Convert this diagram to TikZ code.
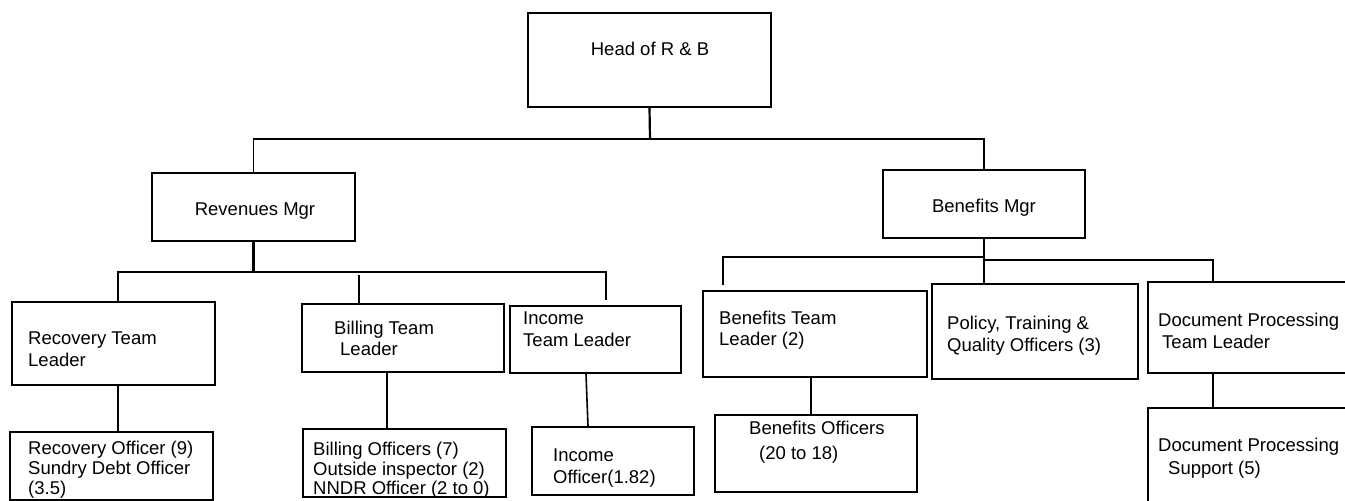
\documentclass[tikz,border=0pt]{standalone}
\usepackage{fontspec}
\setmainfont{Liberation Sans}
\begin{document}
\begin{tikzpicture}[x=1pt, y=-1pt,
  box/.style={draw, line width=1.6pt, inner sep=0pt},
  lbl/.style={inner sep=0pt, align=left, font=\fontsize{18.5}{21.5}\selectfont},
  link/.style={line width=1.6pt, line join=miter},
  thick link/.style={line width=2.2pt, line join=miter}]
\useasboundingbox (0,0) rectangle (1345,501);
\clip (0,0) rectangle (1345,501);

% ---- boxes ----
\node[box, minimum width=243pt, minimum height=94pt] (head)  at (649.5,60)   {};
\node[box, minimum width=203pt, minimum height=68pt] (rev)   at (253.5,207)  {};
\node[box, minimum width=202pt, minimum height=68pt] (ben)   at (984,204)    {};
\node[box, minimum width=203pt, minimum height=83pt] (rectl) at (113.5,343.5){};
\node[box, minimum width=203pt, minimum height=68pt] (reco)  at (111.5,466)  {};
\node[box, minimum width=202pt, minimum height=68pt] (biltl) at (403,338)    {};
\node[box, minimum width=203pt, minimum height=68pt] (bilo)  at (404.5,463)  {};
\node[box, minimum width=171pt, minimum height=67pt] (inctl) at (595.5,339.5){};
\node[box, minimum width=162pt, minimum height=68pt] (inco)  at (613,461)    {};
\node[box, minimum width=224pt, minimum height=86pt] (bentl) at (815,334)    {};
\node[box, minimum width=202pt, minimum height=77pt] (beno)  at (816,453.5)  {};
\node[box, minimum width=206pt, minimum height=95pt] (pol)   at (1035,331.5) {};
\node[box, minimum width=232pt, minimum height=91pt] (doctl) at (1264,327.5) {};
\node[box, minimum width=232pt, minimum height=122pt] (docs) at (1264,469)   {};

% ---- labels ----
\node[lbl, anchor=north] (head-t) at (650,40.5)  {\strut Head of R \& B};
\node[lbl, anchor=north] (rev-t)  at (255,200.5) {\strut Revenues Mgr};
\node[lbl, anchor=north] (ben-t)  at (984,197.5) {\strut Benefits Mgr};
\node[lbl, anchor=north west] (rectl-t) at (28,329.5)  {\strut Recovery Team\\Leader};
\node[lbl, anchor=north west] (reco-t)  at (28,439.5)  {\strut Recovery Officer (9)\\[-1.5pt]Sundry Debt Officer\\[-1.5pt](3.5)};
\node[lbl, anchor=north west] (biltl-t) at (334,319.5) {\strut Billing Team\\[-0.5pt]\hspace*{6pt}Leader};
\node[lbl, anchor=north west] (bilo-t)  at (313,440.5) {\strut Billing Officers (7)\\[-2pt]Outside inspector (2)\\[-2pt]NNDR Officer (2 to 0)};
\node[lbl, anchor=north west] (inctl-t) at (523,309.5) {\strut Income\\[0.5pt]Team Leader};
\node[lbl, anchor=north west] (inco-t)  at (553,446.5) {\strut Income\\[0.5pt]Officer(1.82)};
\node[lbl, anchor=north west] (bentl-t) at (719,309.5) {\strut Benefits Team\\[-0.5pt]Leader (2)};
\node[lbl, anchor=north west] (beno-t)  at (749,419.5) {\strut Benefits Officers\\[3.5pt]\hspace*{10pt}(20 to 18)};
\node[lbl, anchor=north west] (pol-t)   at (947,314.5) {\strut Policy, Training \&\\[0.5pt]Quality Officers (3)};
\node[lbl, anchor=north west] (doctl-t) at (1158,311.5){\strut Document Processing\\[0.5pt]\hspace*{4pt}Team Leader};
\node[lbl, anchor=north west] (docs-t)  at (1158,436.5){\strut Document Processing\\[1.5pt]\hspace*{10pt}Support (5)};

% ---- bus points ----
\coordinate (hbus)    at (650,139);
\coordinate (rbus)    at (253,272);
\coordinate (rbusR)   at (606,272);
\coordinate (incstub) at (606,300);
\coordinate (bilstub) at (359,275);
\coordinate (bbusL)   at (723,257);
\coordinate (bbusM)   at (984,257);
\coordinate (bbusM2)  at (984,260);
\coordinate (bentlstub) at (723,285);

% ---- top level ----
\draw[thick link] (head.south) -- (hbus);
\draw[link] (rev.north) |- (hbus) -| (ben.north);

% ---- revenues branch ----
\draw[thick link] (rev.south) -- (rev.south |- rbus);
\draw[link] ([xshift=4.5pt]rectl.north) |- (rbusR) -- (incstub);
\draw[link] (bilstub) -- (bilstub |- biltl.north);
\draw[link] ([xshift=4.5pt]rectl.south) -- ([xshift=6.5pt]reco.north);
\draw[link] ([xshift=-16pt]biltl.south) -- ([xshift=-17.5pt]bilo.north);
\draw[link] ([xshift=-9.5pt]inctl.south) -- ([xshift=-25pt]inco.north);

% ---- benefits branch ----
\draw[link] (ben.south) -- (ben.south |- pol.north);
\draw[link] (bentlstub) -- (bbusL) -- (bbusM);
\draw[link] (bbusM2) -| ([xshift=-51pt]doctl.north);
\draw[link] ([xshift=-4pt]bentl.south) -- ([xshift=-5pt]beno.north);
\draw[link] ([xshift=-51pt]doctl.south) -- ([xshift=-51pt]docs.north);
\end{tikzpicture}
\end{document}
